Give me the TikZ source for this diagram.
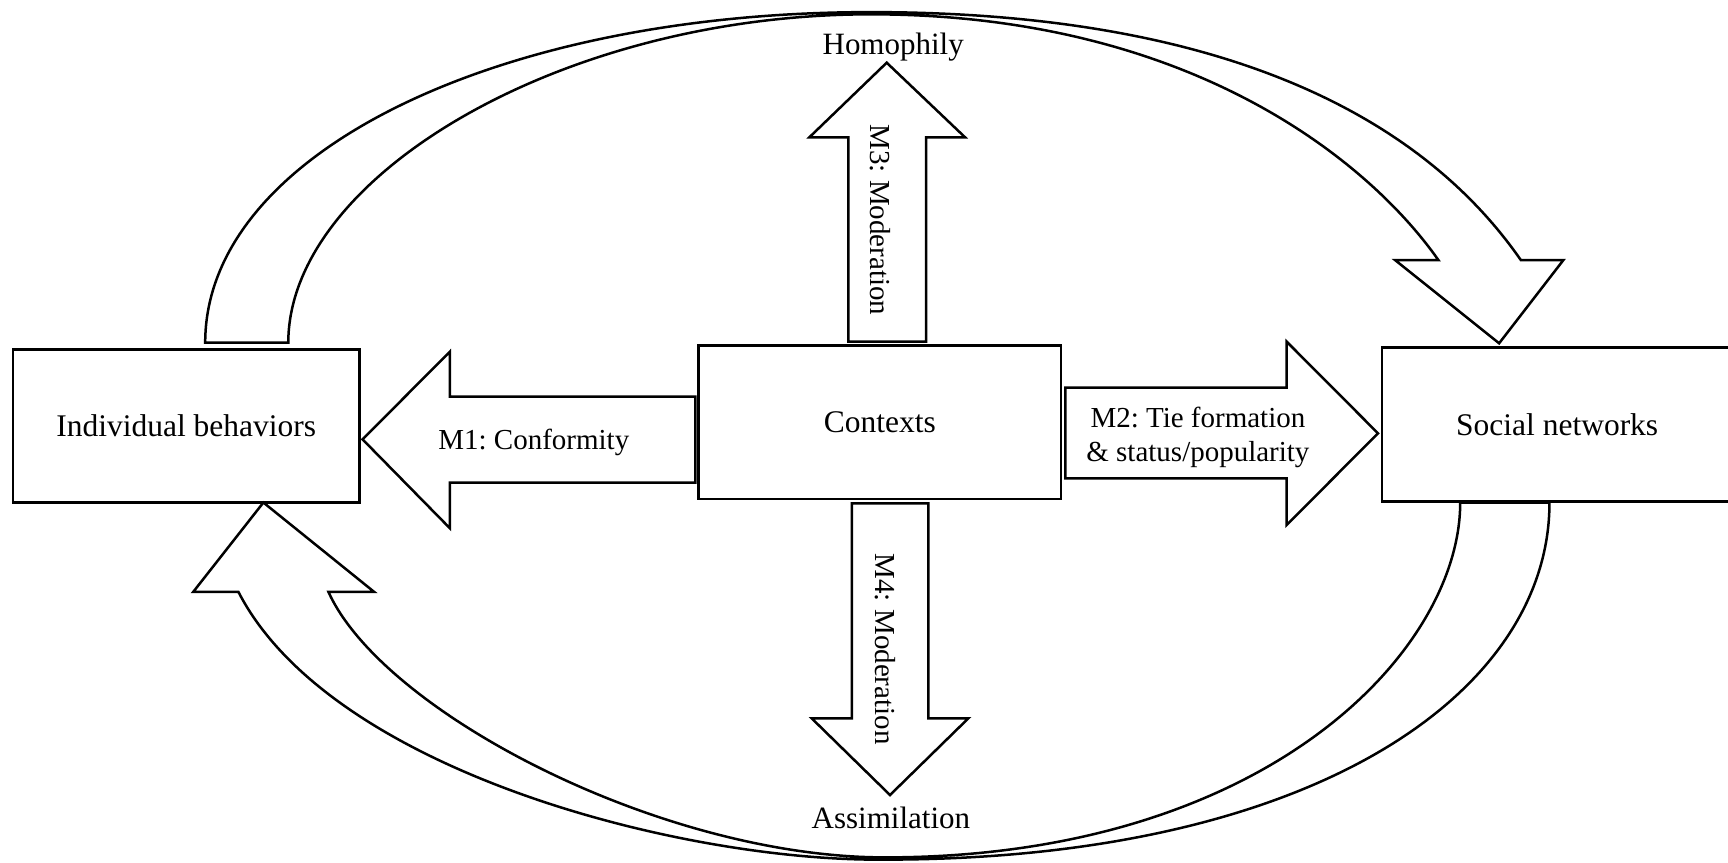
\documentclass[tikz,border=0pt]{standalone}
\usepackage{fontspec}
\setmainfont{Liberation Serif}
\frenchspacing
\tikzset{
  box/.style={draw,inner sep=0pt,font=\fontsize{15.75}{19}\selectfont},
  bigarrow/.style={draw,fill=white,line join=miter},
  armlabel/.style={inner sep=0pt,font=\fontsize{14.5}{17}\selectfont},
  endlabel/.style={inner sep=0pt,anchor=base,font=\fontsize{15.5}{18}\selectfont}
}

\begin{document}
\begin{tikzpicture}[x=0.5512pt,y=-0.5512pt,line width=1.25pt]
\useasboundingbox (0,0) rectangle (1568,783);
\clip (0,0) rectangle (1568,783);
% the three boxes
\node[box,minimum width=173.4pt,minimum height=76.5pt] (ib) at (169,386.4) {Individual behaviors};
\node[box,minimum width=181.2pt,minimum height=76.9pt] (ctx) at (798.4,383.2) {Contexts};
\node[box,minimum width=175.5pt,minimum height=77.2pt] (sn) at (1413,385.2) {Social networks};
% M1 and M2, left and right
\draw[bigarrow] (631,360) -- (408.3,360) -- (408.3,319) -- (329,398.7) -- (408.3,479.4) -- (408.3,438) -- (631,438) -- cycle;
\node[armlabel,anchor=base] (m1) at (484.4,408.3) {M1: Conformity};
\draw[bigarrow] (966.8,351.8) -- (1167.5,351.8) -- (1167.5,310) -- (1250.4,393.2) -- (1167.5,476.4) -- (1167.5,434) -- (966.8,434) -- cycle;
\node[armlabel,align=center] (m2) at (1087,397) {M2: Tie formation\\ \& status/popularity};
% M3 and M4, up and down
\draw[bigarrow] (769.8,310) -- (769.8,124.6) -- (734.4,124.6) -- (804.6,56.9) -- (875.7,124.6) -- (840.3,124.6) -- (840.3,310) -- cycle;
\node[armlabel,rotate=-90] (m3) at (798.6,199.6) {M3: Moderation};
\node[endlabel] (hom) at (810.5,49.9) {Homophily};
\draw[bigarrow] (772.9,456.7) -- (772.9,651.8) -- (736.5,651.8) -- (807.6,721.4) -- (878.7,651.8) -- (842.4,651.8) -- (842.4,456.7) -- cycle;
\node[armlabel,rotate=-90] (m4) at (803,589) {M4: Moderation};
\node[endlabel] (assim) at (808.4,751.7) {Assimilation};
% curved arrow over the top
\draw[bigarrow] (186.2,311) .. controls (186.2,140) and (450,11) .. (790,11)
  .. controls (1160,11) and (1312,138) .. (1380,236) -- (1418.6,236) -- (1360.3,311.5)
  -- (1265.9,236) -- (1305.2,236) .. controls (1242,146) and (1080,13) .. (790,13)
  .. controls (510,13) and (261.6,160) .. (261.6,311) -- cycle;
% curved arrow under the bottom
\draw[bigarrow] (1406,456) .. controls (1406,630) and (1190,780) .. (803,780)
  .. controls (620,782) and (300,700) .. (216.3,537) -- (175.4,537) -- (239,456)
  -- (339.4,537) -- (298,537) .. controls (347,646) and (600,778) .. (803,778)
  .. controls (1150,778) and (1325,590) .. (1325,456) -- cycle;
\end{tikzpicture}
\end{document}
